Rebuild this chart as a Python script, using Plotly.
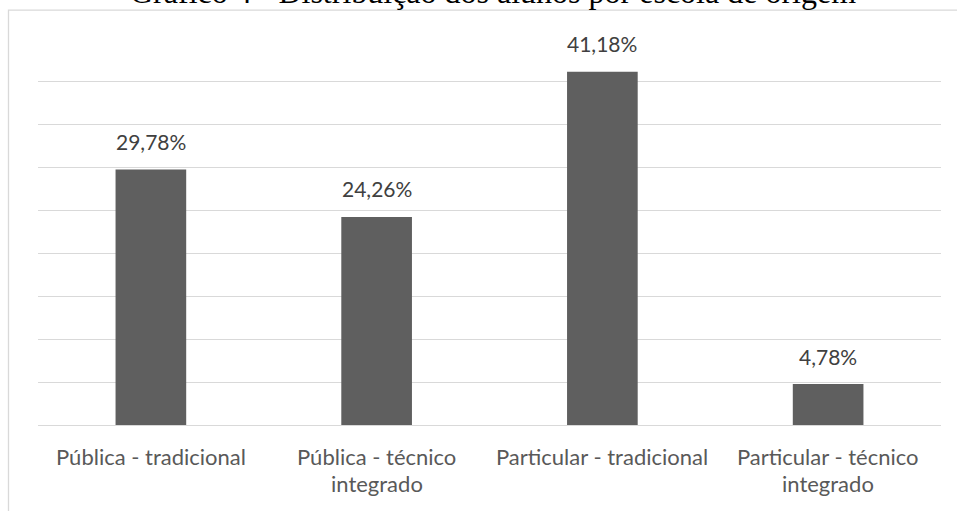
import plotly.graph_objects as go

title = "Gráfico 4 - Distribuição dos alunos por escola de origem"
categories = ["Pública - tradicional", "Pública - técnico integrado",
              "Particular - tradicional", "Particular - técnico integrado"]
label_lines = [["Pública - tradicional"],
               ["Pública - técnico", "integrado"],
               ["Particular - tradicional"],
               ["Particular - técnico", "integrado"]]
values = [29.78, 24.26, 41.18, 4.78]
value_labels = ["29,78%", "24,26%", "41,18%", "4,78%"]

W, H = 957, 511
L, R, T, B = 38, 16, 38.5, 85.5
plot_w = W - L - R
plot_h = H - T - B

fig = go.Figure()
fig.add_trace(go.Bar(x=categories, y=values, marker=dict(color="#5f5f5f", line=dict(width=0)),
                     hoverinfo="skip"))

ann = []
for c, v, t in zip(categories, values, value_labels):
    ann.append(dict(x=c, y=v, xref="x", yref="y", text=t, showarrow=False,
                    yanchor="middle", yshift=28,
                    font=dict(family="Lato", size=21, color="#404040")))
for c, lines in zip(categories, label_lines):
    for j, ln in enumerate(lines):
        ann.append(dict(x=c, y=0, xref="x", yref="y", text=ln, showarrow=False,
                        yanchor="middle", yshift=-(31 + 27 * j),
                        font=dict(family="Lato", size=22, color="#595959")))
# title (cropped at top in the reference)
ann.append(dict(x=(493 - L) / plot_w, y=(H - B - 11) / plot_h, xref="paper", yref="paper",
                text=title, showarrow=False, yanchor="bottom", xanchor="center",
                font=dict(family="Liberation Serif", size=32, color="#000000")))

fig.update_layout(
    width=W, height=H,
    margin=dict(l=L, r=R, t=T, b=B, pad=0),
    paper_bgcolor="white", plot_bgcolor="white",
    bargap=0.687,
    showlegend=False,
    annotations=ann,
    xaxis=dict(showticklabels=False, showgrid=False, showline=False, ticks="", zeroline=False),
    yaxis=dict(range=[0, 45], dtick=5, tick0=0, showticklabels=False, showgrid=True,
               gridcolor="#d9d9d9", gridwidth=1.3, zeroline=True, zerolinecolor="#d9d9d9",
               zerolinewidth=1.3, showline=False, ticks=""),
    shapes=[dict(type="rect", xref="paper", yref="paper",
                 x0=(8.5 - L) / plot_w, x1=(W + 20 - L) / plot_w,
                 y0=(H - B - (H + 20)) / plot_h, y1=(H - B - 9.5) / plot_h,
                 line=dict(color="#d9d9d9", width=1.3), layer="below")],
)

fig.write_html("out.html", config={"displayModeBar": False},
               post_script="document.body.style.margin='0';document.body.style.overflow='hidden';")
